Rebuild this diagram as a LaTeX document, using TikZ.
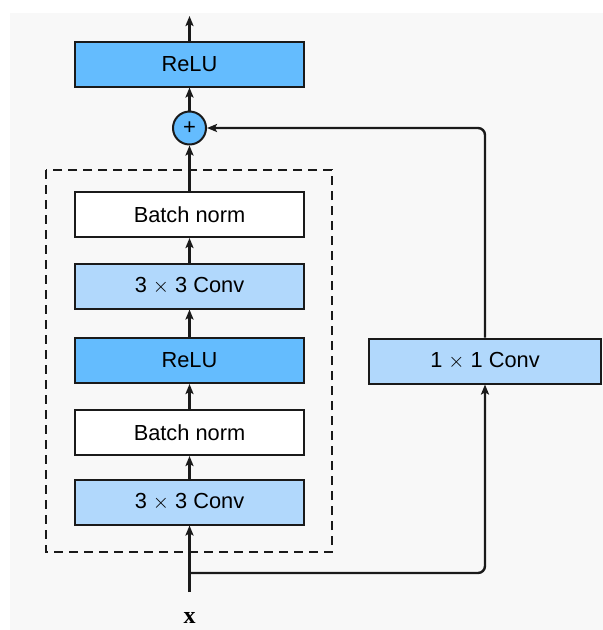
\documentclass[tikz,border=0pt]{standalone}
\usepackage{fontspec}
\setmainfont{Liberation Sans}
\newfontfamily\serifx{Liberation Serif}
\usetikzlibrary{arrows.meta}
\definecolor{dblue}{HTML}{64BCFE}
\definecolor{lblue}{HTML}{B1D8FC}
\definecolor{bg}{HTML}{F8F8F8}
\definecolor{ink}{HTML}{1A1A1A}
\begin{document}
\begin{tikzpicture}[x=1pt,y=-1pt,
  layer/.style={draw=ink,line width=2pt,minimum width=229pt,minimum height=45pt,inner sep=0pt,font=\fontsize{21.8}{24}\selectfont},
  darkbox/.style={layer,fill=dblue},
  lightbox/.style={layer,fill=lblue},
  plainbox/.style={layer,fill=white},
  arr/.style={draw=ink,line width=2.4pt,-{Stealth[length=10pt,width=8pt,inset=2pt]}},
  ln/.style={draw=ink,line width=2.4pt}]
\useasboundingbox (0,0) rectangle (603,630);
\fill[white] (0,0) rectangle (603,630);
\fill[bg] (10,13) rectangle (603,630);
\draw[ink,line width=2.2pt,dash pattern=on 9pt off 6pt] (46,170) rectangle (332,552);
\node[darkbox] (relutop) at (189.5,64) {ReLU};
\node[draw=ink,line width=2pt,fill=dblue,circle,minimum size=33pt,inner sep=0pt,font=\fontsize{22}{24}\selectfont] (plus) at (189.5,128) {+};
\node[plainbox] (bn1) at (189.5,214.5) {Batch norm};
\node[lightbox] (conv1) at (189.5,286) {3 $\times$ 3 Conv};
\node[darkbox] (relumid) at (189.5,360.5) {ReLU};
\node[plainbox] (bn2) at (189.5,432.5) {Batch norm};
\node[lightbox] (conv2) at (189.5,502) {3 $\times$ 3 Conv};
\node[lightbox,minimum width=232pt] (c11) at (485,361) {1 $\times$ 1 Conv};
\coordinate (out) at (189.5,16);
\coordinate (in) at (189.5,592);
\coordinate (br) at (189.5,573);
\node[font=\fontsize{24}{26}\selectfont\serifx\bfseries] (xl) at (189.5,618) {x};
\draw[arr] (relutop) -- (out);
\draw[arr] (plus) -- (relutop);
\draw[arr] (bn1) -- (plus);
\draw[arr] (conv1) -- (bn1);
\draw[arr] (relumid) -- (conv1);
\draw[arr] (bn2) -- (relumid);
\draw[arr] (conv2) -- (bn2);
\draw[arr] (in) -- (conv2);
\draw[arr,rounded corners=7pt] (br) -| (c11.south);
\draw[arr,rounded corners=7pt] (c11.north) |- (plus.east);
\end{tikzpicture}
\end{document}
